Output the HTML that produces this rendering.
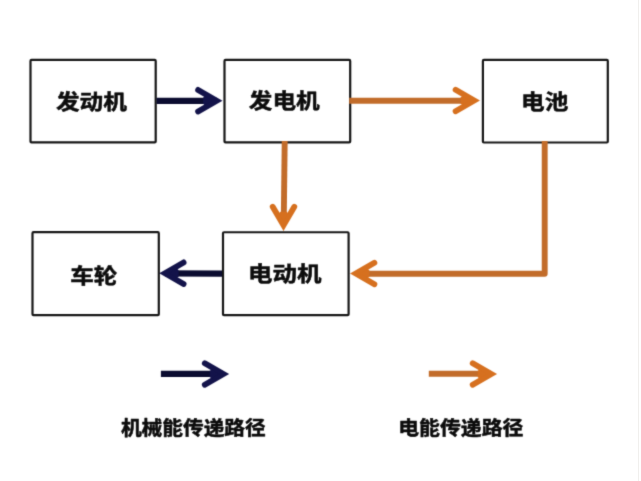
<!DOCTYPE html>
<html lang="zh-CN">
<head>
<meta charset="utf-8">
<title>能量传递路径</title>
<style>
html,body{margin:0;padding:0;background:#fff;overflow:hidden;}
body{width:641px;height:481px;}
svg{display:block;}
text{font-family:"Liberation Sans","Noto Sans CJK SC",sans-serif;font-weight:bold;fill:#0c0c0c;stroke:#0c0c0c;stroke-width:0.55px;stroke-linejoin:round;text-anchor:middle;}
.box{fill:#fff;stroke:#161616;stroke-width:2.2;}
.b{stroke:#0b0c30;stroke-width:6.2;fill:none;}
.o{stroke:#c26c2a;stroke-width:5.9;fill:none;}
.b.h{stroke:#13134a;}
.o.h{stroke:#d6701f;}
.h{stroke-width:5.8;stroke-linecap:round;stroke-linejoin:miter;stroke-miterlimit:10;}
.t1{font-size:24px;}
.t2{font-size:20.8px;}
</style>
</head>
<body>
<svg width="641" height="481" viewBox="0 0 641 481">
<defs><filter id="bl" color-interpolation-filters="sRGB" x="0" y="0" width="641" height="481" filterUnits="userSpaceOnUse"><feConvolveMatrix order="3" kernelMatrix="0.0192 0.1001 0.0192 0.1001 0.5228 0.1001 0.0192 0.1001 0.0192" divisor="1" edgeMode="none" preserveAlpha="false"/></filter></defs>
<rect width="641" height="481" fill="#fff"/>
<rect x="638" y="0" width="1" height="481" fill="#f0efed"/>
<g filter="url(#bl)">
<!-- boxes -->
<rect class="box" x="30.5" y="59.900" width="125.2" height="82.500" rx="1"/>
<rect class="box" x="224.5" y="59.900" width="125.7" height="82.500" rx="1"/>
<rect class="box" x="482.9" y="59.900" width="124.9" height="82.600" rx="1"/>
<rect class="box" x="32.5" y="232.200" width="126.300" height="83" rx="1"/>
<rect class="box" x="223" y="232.250" width="125.600" height="82.950" rx="1"/>
<!-- blue arrow 1 -->
<path class="b" d="M156.500 100.800H217"/>
<path class="b h" d="M198.1 89.9L216.7 100.7L198.1 111.5"/><polygon points="212.6,100.7 204.6,96.1 203.1,97.7 203.1,103.7 204.6,105.3" fill="#13134a"/>
<!-- orange arrow 1 -->
<path class="o" d="M349.200 100.700H474"/>
<path class="o h" d="M455.6 89.7L474.2 100.5L455.6 111.3"/><polygon points="470.1,100.5 462.1,95.9 460.6,97.5 460.6,103.5 462.1,105.1" fill="#d6701f"/>
<!-- orange down -->
<path class="o" d="M284.700 141L283.700 225"/>
<path class="o h" d="M272.7 206.7L283.5 225.3L294.3 206.7"/><polygon points="283.5,221.2 278.9,213.2 280.5,211.7 286.5,211.7 288.1,213.2" fill="#d6701f"/>
<!-- orange L -->
<path class="o" d="M544.700 141V273.800H356" stroke-linejoin="round"/>
<path class="o h" d="M374.4 262.7L355.8 273.5L374.4 284.3"/><polygon points="359.9,273.5 367.9,268.9 369.4,270.5 369.4,276.5 367.9,278.1" fill="#d6701f"/>
<!-- blue arrow 2 -->
<path class="b" d="M222 273.700L165 273.400"/>
<path class="b h" d="M183.6 262.4L165.0 273.2L183.6 284.0"/><polygon points="169.1,273.2 177.1,268.6 178.6,270.2 178.6,276.2 177.1,277.8" fill="#13134a"/>
<!-- legend arrows -->
<path class="b" d="M160.900 373.800H223"/>
<path class="b h" d="M204.8 363.2L223.4 374.0L204.8 384.8"/><polygon points="219.3,374.0 211.3,369.4 209.8,371.0 209.8,377.0 211.3,378.6" fill="#13134a"/>
<path class="o" d="M428.800 373.800H491"/>
<path class="o h" d="M472.7 363.2L491.3 374.0L472.7 384.8"/><polygon points="487.2,374.0 479.2,369.4 477.7,371.0 477.7,377.0 479.2,378.6" fill="#d6701f"/>
<!-- text -->
<g class="t1">
<text transform="translate(91.400 100.900) scale(0.985 0.870)" y="9.250">发动机</text>
<text transform="translate(284.300 99.700) scale(0.985 0.870)" y="9.250">发电机</text>
<text transform="translate(544.700 100.900) scale(0.985 0.870)" y="9.250">电池</text>
<text transform="translate(93.800 274.900) scale(0.985 0.870)" y="9.250">车轮</text>
<text transform="translate(284.800 273.200) scale(1.020 0.870)" y="9.250">电动机</text>
</g>
<g class="t2">
<text transform="translate(193.300 427.800) scale(0.995 0.940)" y="8">机械能传递路径</text>
<text transform="translate(460.800 427.700) scale(1.003 0.940)" y="8">电能传递路径</text>
</g>
</g>
</svg>
</body>
</html>
